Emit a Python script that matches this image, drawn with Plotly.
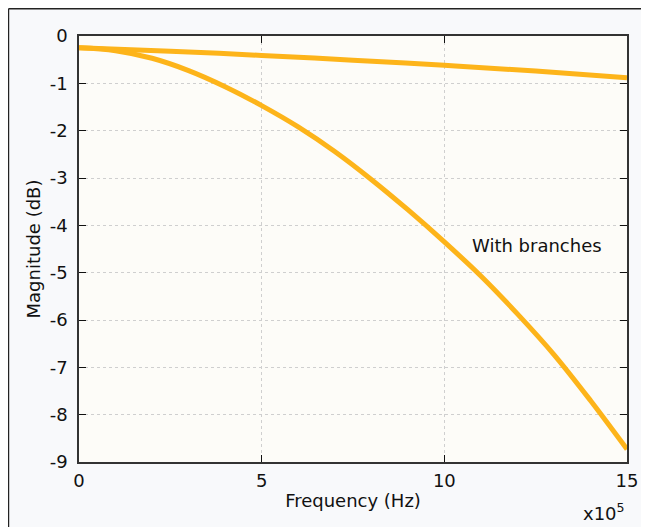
import plotly.graph_objects as go

# Frequency in units of 1e5 Hz
freq_plain = [0, 2.5, 5, 7.5, 10, 12.5, 15]
mag_plain = [-0.25, -0.32, -0.41, -0.51, -0.62, -0.74, -0.88]

freq_branch = [0, 1, 2, 3, 4, 5, 6, 7, 8, 9, 10, 11, 12, 13, 14, 15]
mag_branch = [-0.25, -0.31, -0.47, -0.73, -1.07, -1.47, -1.92, -2.44, -3.03, -3.67,
              -4.35, -5.07, -5.87, -6.73, -7.70, -8.73]

x_ticks = [0, 5, 10, 15]
x_ticktext = ["0", "5", "10", "15"]
y_ticks = [0, -1, -2, -3, -4, -5, -6, -7, -8, -9]
y_ticktext = ["0", "-1", "-2", "-3", "-4", "-5", "-6", "-7", "-8", "-9"]

LINE = "#fdb41a"
FONT = "DejaVu Sans"
FS = 18

fig = go.Figure()
fig.add_trace(go.Scatter(x=freq_plain, y=mag_plain, mode="lines",
                         line=dict(color=LINE, width=5, shape="spline"),
                         showlegend=False, hoverinfo="skip"))
fig.add_trace(go.Scatter(x=freq_branch, y=mag_branch, mode="lines",
                         line=dict(color=LINE, width=5, shape="spline"),
                         showlegend=False, hoverinfo="skip"))

axis_common = dict(showline=True, linecolor="#333333", linewidth=1.5, mirror="ticks",
                   ticks="inside", ticklen=7, tickcolor="#111111", tickwidth=1.2,
                   showgrid=True, gridcolor="#cfcfcf", griddash="dot", gridwidth=1,
                   zeroline=False, tickfont=dict(family=FONT, size=FS, color="#111111"))

fig.update_xaxes(range=[0, 15], tickvals=x_ticks, ticktext=x_ticktext,
                 title=dict(text="Frequency (Hz)", font=dict(family=FONT, size=FS, color="#111111"),
                            standoff=4),
                 ticklabelstandoff=2, **axis_common)
fig.update_yaxes(range=[-9, 0], tickvals=y_ticks, ticktext=y_ticktext,
                 title=dict(text="Magnitude (dB)", font=dict(family=FONT, size=FS, color="#111111"),
                            standoff=4),
                 ticklabelstandoff=6, **axis_common)

fig.add_annotation(x=10.7, y=-4.43, xref="x", yref="y", text="With branches",
                   showarrow=False, xanchor="left", yanchor="middle",
                   font=dict(family=FONT, size=FS, color="#111111"))
fig.add_annotation(x=0.958, y=-0.117, xref="paper", yref="paper", text="x10<sup>5</sup>",
                   showarrow=False, xanchor="center", yanchor="middle",
                   font=dict(family=FONT, size=FS, color="#111111"))

# figure frame (left and top edges) and plot-area background
fig.add_shape(type="line", xref="paper", yref="paper", x0=-0.1287, x1=-0.1287, y0=-0.3, y1=1.064,
              line=dict(color="#222222", width=1.5), layer="below")
fig.add_shape(type="line", xref="paper", yref="paper", x0=-0.1287, x1=1.3, y0=1.064, y1=1.064,
              line=dict(color="#222222", width=1.5), layer="below")
fig.add_shape(type="rect", xref="paper", yref="paper", x0=0, x1=1, y0=0, y1=1,
              line=dict(width=0), fillcolor="#fdfcf8", layer="below")

fig.update_layout(width=641, height=519, margin=dict(l=71, r=22, t=28, b=65),
                  paper_bgcolor="#f8f9fb", plot_bgcolor="#fdfcf8",
                  font=dict(family=FONT))

fig.write_html("out.html", post_script="document.body.style.overflow='hidden';")
